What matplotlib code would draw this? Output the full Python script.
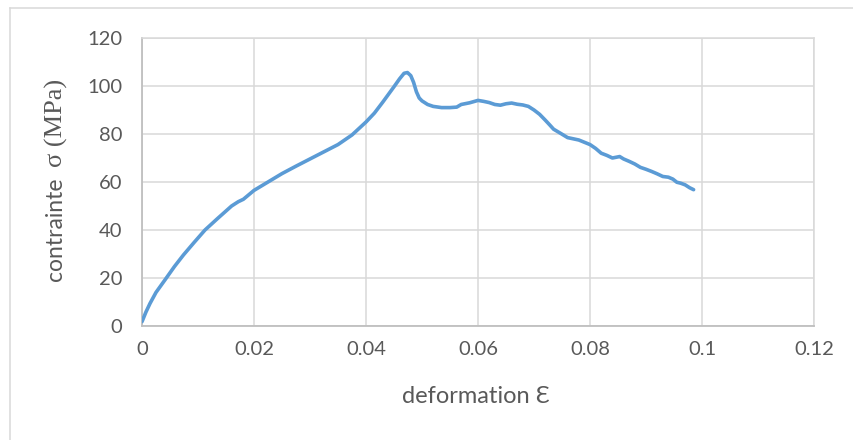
import matplotlib
matplotlib.use("Agg")
import matplotlib.pyplot as plt
from matplotlib.lines import Line2D

# Stress-strain curve (strain, stress in MPa)
strain = [0.0, 0.0007, 0.00143, 0.0025, 0.0041, 0.0058, 0.0074, 0.0093, 0.01125,
          0.0135, 0.016, 0.0172, 0.0181, 0.02, 0.0225, 0.025, 0.0275, 0.03,
          0.0325, 0.035, 0.0375, 0.04, 0.0415, 0.043, 0.044, 0.045, 0.046,
          0.0468, 0.0474, 0.048, 0.0485, 0.049, 0.0495, 0.050, 0.051, 0.052,
          0.0535, 0.055, 0.0562, 0.057, 0.0585, 0.06, 0.061, 0.062, 0.063,
          0.064, 0.065, 0.066, 0.067, 0.068, 0.069, 0.07, 0.071, 0.072,
          0.0728, 0.0735, 0.0748, 0.076, 0.078, 0.08, 0.081, 0.082, 0.083,
          0.084, 0.0853, 0.086, 0.087, 0.088, 0.089, 0.090, 0.091, 0.092,
          0.093, 0.094, 0.0948, 0.0955, 0.0962, 0.097, 0.0978, 0.0985]
stress = [1.8, 5.8, 9.4, 14.0, 19.2, 24.8, 29.6, 34.8, 40.0,
          44.8, 50.0, 51.8, 52.8, 56.5, 60.0, 63.5, 66.6, 69.6,
          72.6, 75.6, 79.6, 85.0, 88.7, 93.3, 96.5, 99.7, 103.0,
          105.3, 105.6, 104.3, 101.5, 97.6, 95.0, 93.8, 92.3, 91.5,
          91.0, 91.0, 91.2, 92.3, 93.0, 94.0, 93.6, 93.1, 92.3,
          92.0, 92.6, 92.9, 92.4, 92.1, 91.5, 90.0, 88.2, 85.8,
          83.8, 82.0, 80.2, 78.5, 77.5, 75.6, 74.0, 72.0, 71.1,
          70.0, 70.6, 69.6, 68.6, 67.5, 66.1, 65.3, 64.4, 63.4,
          62.3, 62.0, 61.2, 59.9, 59.5, 58.8, 57.6, 56.8]

x_ticks = [0, 0.02, 0.04, 0.06, 0.08, 0.1, 0.12]
x_tick_labels = ["0", "0.02", "0.04", "0.06", "0.08", "0.1", "0.12"]
y_ticks = [0, 20, 40, 60, 80, 100, 120]

W, H = 854, 440
fig = plt.figure(figsize=(W / 100, H / 100), dpi=100)
fig.patch.set_facecolor("white")

ax = fig.add_axes([142 / W, 1 - 326 / H, (814 - 142) / W, (326 - 38) / H])

grid_c = "#D9D9D9"
axis_c = "#BFBFBF"
text_c = "#595959"
sans = ["Lato", "DejaVu Sans"]

ax.plot(strain, stress, color="#5B9BD5", lw=2.6, solid_joinstyle="round",
        solid_capstyle="round", zorder=3)

ax.set_xlim(0, 0.12)
ax.set_ylim(0, 120)
ax.set_xticks(x_ticks)
ax.set_xticklabels(x_tick_labels)
ax.set_yticks(y_ticks)
ax.grid(True, color=grid_c, lw=1.1, zorder=0)
ax.set_axisbelow(True)
ax.tick_params(length=0, colors=text_c, labelsize=14.5)
ax.tick_params(axis="y", pad=14)
ax.tick_params(axis="x", pad=11)
for lab in ax.get_xticklabels() + ax.get_yticklabels():
    lab.set_family(sans)

for side in ("left", "bottom"):
    ax.spines[side].set_color(axis_c)
    ax.spines[side].set_linewidth(1.3)
for side in ("top", "right"):
    ax.spines[side].set_color(grid_c)
    ax.spines[side].set_linewidth(1.1)

# x axis title
fig.text(476 / W, 1 - 396 / H, "deformation \u0190", ha="center", va="center",
         color=text_c, fontsize=17, family=sans)

# y axis title: sans word followed by serif symbol and unit
fig.text(56 / W, 1 - 229 / H, "contrainte", rotation=90, ha="center",
         va="center", color=text_c, fontsize=16.5, family=sans)
fig.text(56 / W, 1 - 123 / H, "\u03c3 (MPa)", rotation=90, ha="center",
         va="center", color=text_c, fontsize=19,
         family=["Liberation Serif", "DejaVu Serif"])

# outer chart frame
fig.add_artist(Line2D([10 / W, 10 / W], [0, 1 - 8 / H], transform=fig.transFigure,
                      color=grid_c, lw=1.1))
fig.add_artist(Line2D([10 / W, 1], [1 - 8 / H, 1 - 8 / H], transform=fig.transFigure,
                      color=grid_c, lw=1.1))

fig.savefig("out.png", dpi=100, facecolor="white")
